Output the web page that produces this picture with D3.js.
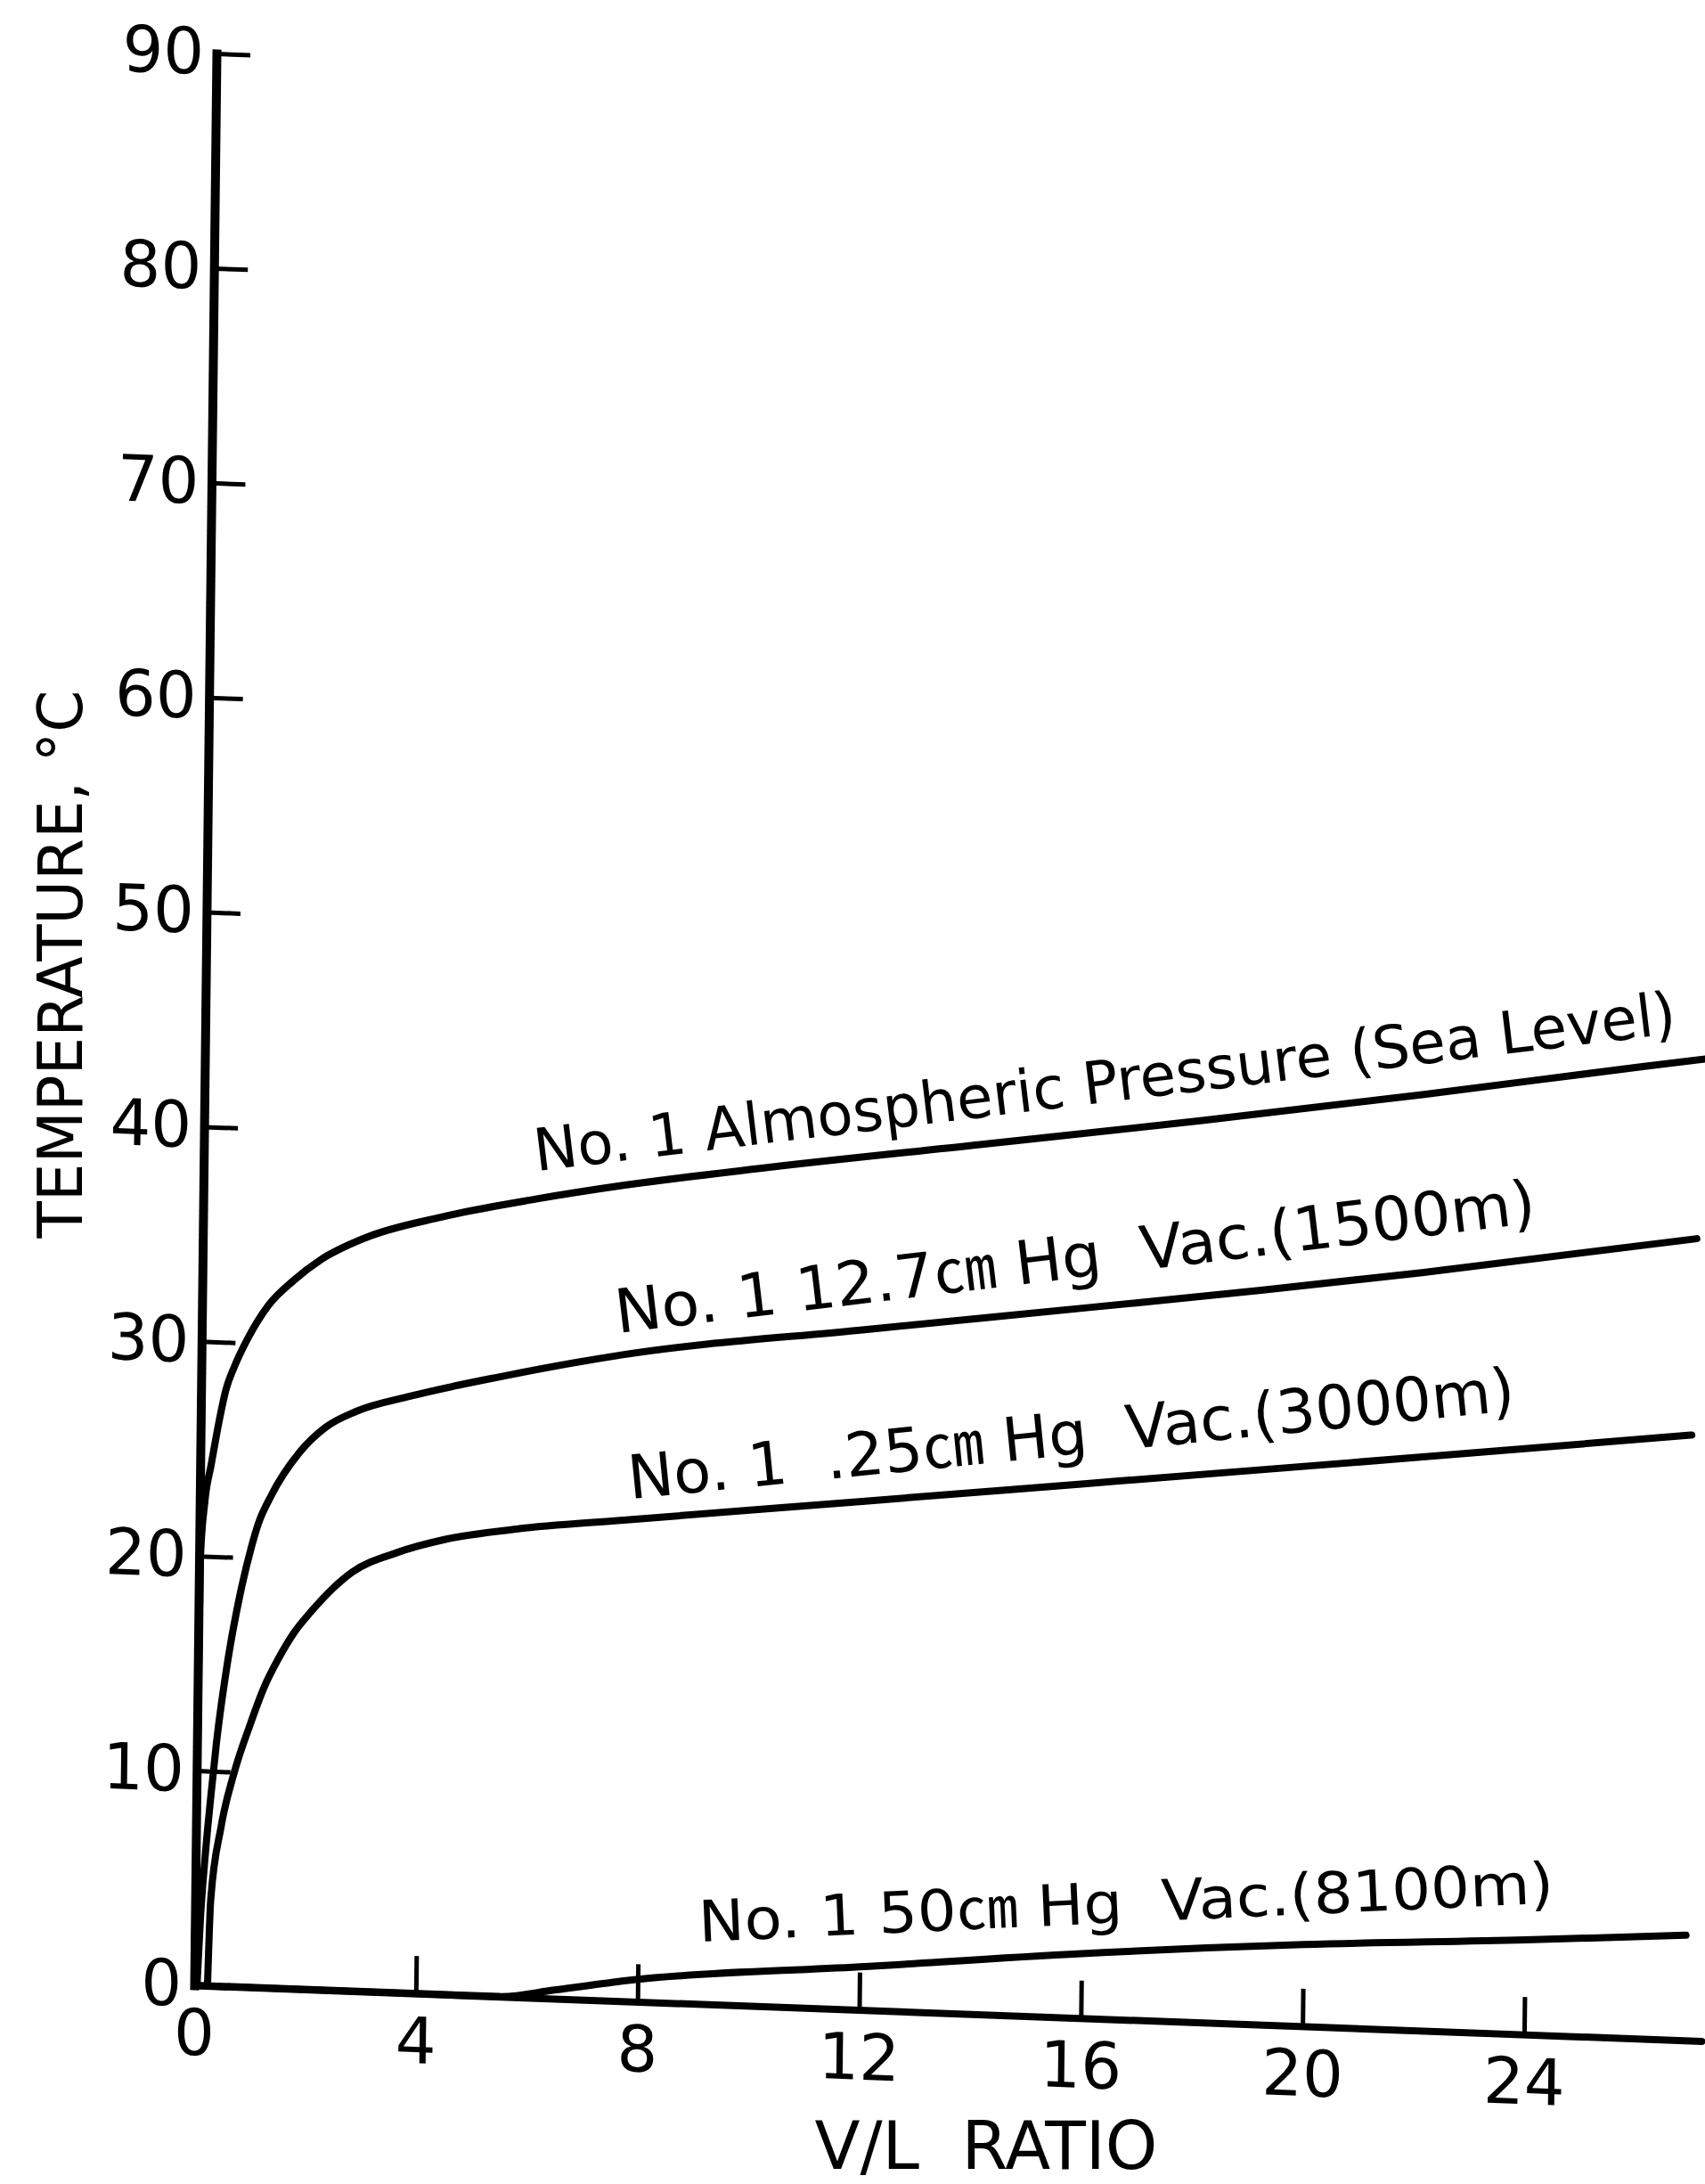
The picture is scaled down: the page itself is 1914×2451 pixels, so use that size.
<!DOCTYPE html>
<html>
<head>
<meta charset="utf-8">
<script src="https://cdn.jsdelivr.net/npm/d3@7"></script>
<style>
  html, body { margin: 0; padding: 0; background: #fff; }
  svg { display: block; }
  text { font-family: "DejaVu Sans", "Noto Sans CJK JP", sans-serif; fill: #000; }
</style>
</head>
<body>
<div id="chart"></div>
<script>
// temperature vs V/L ratio
const xTicks = [0, 4, 8, 12, 16, 20, 24];
const yTicks = [0, 10, 20, 30, 40, 50, 60, 70, 80, 90];

// No.1 atmospheric pressure (sea level)
const atmVL   = [0, 0.02, 0.09, 0.2, 0.29, 0.45, 0.6, 0.83, 1.2, 1.65, 2.13, 2.93, 4.3, 6.0, 7.6, 10, 14, 18, 22, 26, 27.1];
const atmTemp = [0, 19.8, 22.5, 24.3, 25.7, 27.8, 28.9, 30.2, 31.8, 33.0, 34.0, 35.1, 36.2, 37.2, 38.0, 39.0, 40.5, 42.0, 43.6, 45.3, 45.75];

// No.1 12.7 cm Hg vac. (1500 m)
const vac127VL   = [0.05, 0.1, 0.17, 0.26, 0.35, 0.54, 0.74, 0.94, 1.06, 1.28, 1.79, 2.25, 2.8, 3.77, 5.45, 7.6, 12, 16, 19.1, 22, 26.95];
const vac127Temp = [0, 3.2, 6.0, 8.8, 11.3, 15.2, 18.2, 20.5, 21.6, 22.9, 25.0, 26.2, 27.0, 27.8, 28.9, 30.1, 31.7, 33.1, 34.2, 35.3, 37.35];

// No.1 25 cm Hg vac. (3000 m)
const vac25VL   = [0.24, 0.28, 0.45, 0.68, 0.95, 1.2, 1.44, 1.73, 2.03, 2.41, 2.76, 3.57, 4.44, 5.72, 7.65, 12, 16, 19, 22, 26.9];
const vac25Temp = [0, 4.0, 7.4, 10.0, 12.2, 14.0, 15.3, 16.6, 17.6, 18.7, 19.5, 20.5, 21.2, 21.8, 22.4, 23.7, 24.9, 25.8, 26.7, 28.2];

// No.1 50 cm Hg vac. (8100 m)
const vac50VL   = [0, 5.5, 6.5, 7.9, 12, 16, 20, 24, 26.9];
const vac50Temp = [0, 0, 0.4, 1.0, 2.0, 3.0, 3.8, 4.4, 4.9];

const seriesNames = [
  "No. 1 Almospheric Pressure (Sea Level)",
  "No. 1 12.7\u339D Hg  Vac.(1500m)",
  "No. 1  .25\u339D Hg  Vac.(3000m)",
  "No. 1 50\u339D Hg  Vac.(8100m)"
];
// where each name sits, in chart units (V/L, °C)
const nameVL   = [6.0, 7.5, 7.76, 9.1];
const nameTemp = [38.5, 31.1, 23.4, 2.9];

const W = 1914, H = 2451;
const svg = d3.select("#chart").append("svg")
  .attr("width", W)
  .attr("height", H);

svg.append("rect").attr("width", W).attr("height", H).attr("fill", "#fff");

// the original axes are hand drawn: the x axis runs downhill and the
// y axis leans a bit, so the plot lives in a slightly skewed frame
const origin = { x: 218, y: 2228 };
const plotW = 1692, plotH = 2168;
const slopeX = 0.0369;
const leanY = 25 / plotH;
const e = origin.x + leanY * plotH;
const f = origin.y - plotH;
const toScreen = (u, v) => [e + u - leanY * v, f + slopeX * u + v];

const x = d3.scaleLinear().domain([0, 27.2]).range([0, plotW]);
const y = d3.scaleLinear().domain([0, 90]).range([plotH, 0]);

const g = svg.append("g")
  .attr("transform", `matrix(1,${slopeX},${-leanY},1,${e},${f})`);

// x axis, ticks pointing up
const xAxis = d3.axisBottom(x)
  .tickValues(xTicks)
  .tickSizeInner(-42)
  .tickSizeOuter(0)
  .tickPadding(27)
  .tickFormat(d3.format("d"));

const gx = g.append("g")
  .attr("transform", `translate(0,${plotH})`)
  .call(xAxis);
gx.select(".domain").attr("stroke-width", 8).attr("stroke-linecap", "round");
gx.selectAll(".tick line").attr("stroke-width", 5);
gx.selectAll(".tick text")
  .attr("font-size", 72)
  .attr("font-family", "DejaVu Sans");

// y axis, ticks pointing right
const yAxis = d3.axisLeft(y)
  .tickValues(yTicks)
  .tickSizeInner(-38)
  .tickSizeOuter(0)
  .tickPadding(14);

const gy = g.append("g").call(yAxis);
gy.select(".domain").attr("stroke-width", 10).attr("stroke-linecap", "square");
gy.selectAll(".tick line").attr("stroke-width", 5);
gy.selectAll(".tick text")
  .attr("font-size", 72)
  .attr("font-family", "DejaVu Sans");

// curves
const series = [
  d3.zip(atmVL, atmTemp),
  d3.zip(vac127VL, vac127Temp),
  d3.zip(vac25VL, vac25Temp),
  d3.zip(vac50VL, vac50Temp)
];

const line = d3.line()
  .x(d => x(d[0]))
  .y(d => y(d[1]))
  .curve(d3.curveMonotoneX);

g.selectAll(".curve")
  .data(series)
  .join("path")
  .attr("class", "curve")
  .attr("d", line)
  .attr("fill", "none")
  .attr("stroke", "#000")
  .attr("stroke-width", 8)
  .attr("stroke-linecap", "round")
  .attr("stroke-linejoin", "round");

// curve names, lettered along the lines
const nameStyle = [
  { size: 66, angle: -6.9, len: 1291 },
  { size: 68, angle: -6.85, len: 1040 },
  { size: 68, angle: -5.7, len: 1000 },
  { size: 64, angle: -2.6, len: 961 }
];

seriesNames.forEach((name, i) => {
  const [sx, sy] = toScreen(x(nameVL[i]), y(nameTemp[i]));
  svg.append("text")
    .attr("transform", `translate(${sx},${sy}) rotate(${nameStyle[i].angle})`)
    .attr("font-size", nameStyle[i].size)
    .attr("textLength", nameStyle[i].len)
    .attr("lengthAdjust", "spacingAndGlyphs")
    .style("white-space", "pre")
    .text(name);
});

// axis titles
svg.append("text")
  .attr("x", 1107)
  .attr("y", 2434)
  .attr("text-anchor", "middle")
  .attr("font-size", 74)
  .attr("textLength", 385)
  .attr("lengthAdjust", "spacingAndGlyphs")
  .style("white-space", "pre")
  .text("V/L  RATIO");

svg.append("text")
  .attr("transform", "translate(92,1082) rotate(-90)")
  .attr("text-anchor", "middle")
  .attr("font-size", 70)
  .attr("textLength", 615)
  .attr("lengthAdjust", "spacingAndGlyphs")
  .text("TEMPERATURE, °C");
</script>
</body>
</html>
